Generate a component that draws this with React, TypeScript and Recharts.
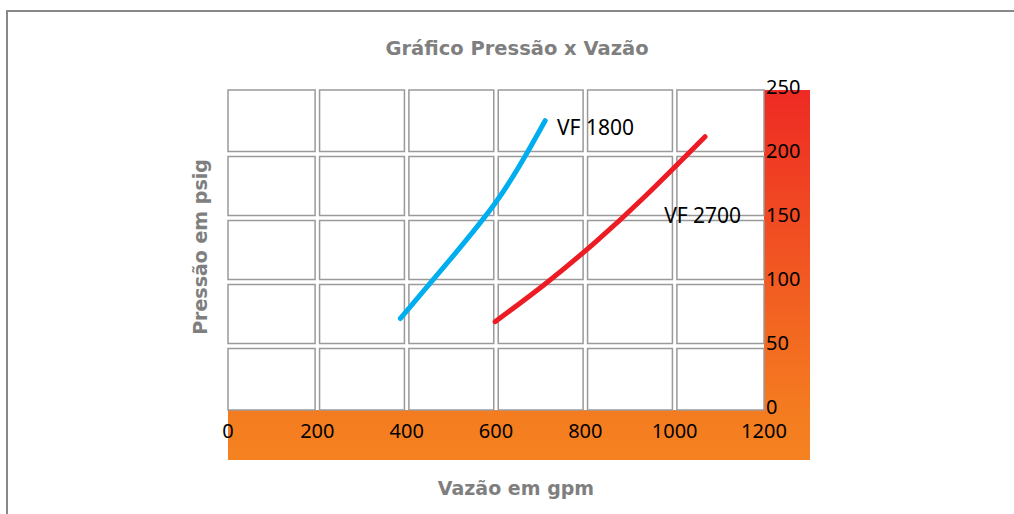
import React from 'react'
import {
  LineChart, Line, XAxis, YAxis, ReferenceArea, ReferenceDot,
} from 'recharts'

const X_TICKS = [0, 200, 400, 600, 800, 1000, 1200]
const Y_TICKS = [0, 50, 100, 150, 200, 250]

const VF1800 = [
  { x: 386, y: 71.5 },
  { x: 490, y: 114.5 },
  { x: 598, y: 161.5 },
  { x: 669, y: 200.5 },
  { x: 710, y: 226 },
]

const VF2700 = [
  { x: 598, y: 69 },
  { x: 710, y: 98.5 },
  { x: 822, y: 131 },
  { x: 934, y: 167 },
  { x: 1068, y: 213.5 },
]

const SERIES_LABELS = [
  { name: 'VF 1800', x: 723, y: 221 },
  { name: 'VF 2700', x: 963, y: 152 },
]

const GREY = '#7f7f7f'
const NUM_FONT = '"Noto Sans", sans-serif'
const TITLE_FONT = '"DejaVu Sans", sans-serif'

// white boxes between the grid lines, a small gap around each line
const cells: { x1: number; x2: number; y1: number; y2: number }[] = []
for (let i = 0; i < X_TICKS.length - 1; i++) {
  for (let j = 0; j < Y_TICKS.length - 1; j++) {
    cells.push({
      x1: i === 0 ? X_TICKS[i] : X_TICKS[i] + 5,
      x2: i === X_TICKS.length - 2 ? X_TICKS[i + 1] : X_TICKS[i + 1] - 5,
      y1: j === 0 ? Y_TICKS[j] : Y_TICKS[j] + 2,
      y2: j === Y_TICKS.length - 2 ? Y_TICKS[j + 1] : Y_TICKS[j + 1] - 2,
    })
  }
}

const titleStyle: React.CSSProperties = {
  fontFamily: TITLE_FONT, fontWeight: 'bold', color: GREY, whiteSpace: 'nowrap',
}

export default function App() {
  return (
    <div style={{ position: 'absolute', left: 0, top: 0, width: 1014, height: 514, background: '#fff', overflow: 'hidden' }}>
      {/* frame */}
      <div style={{ position: 'absolute', left: 6, top: 10, width: 1100, height: 600, borderTop: '2px solid #888', borderLeft: '2px solid #888' }} />

      <div style={{ ...titleStyle, position: 'absolute', left: 0, top: 37, width: 1034, textAlign: 'center', fontSize: 19.5 }}>
        Gráfico Pressão x Vazão
      </div>
      <div style={{ ...titleStyle, position: 'absolute', left: 0, top: 477, width: 1032, textAlign: 'center', fontSize: 19 }}>
        Vazão em gpm
      </div>
      <div style={{ position: 'absolute', left: 200, top: 248, width: 0, height: 0 }}>
        <div style={{ ...titleStyle, position: 'absolute', left: -150, top: -12, width: 300, textAlign: 'center', transform: 'rotate(-90deg)', fontSize: 19 }}>
          Pressão em psig
        </div>
      </div>

      <div style={{ position: 'absolute', left: 0, top: 0 }}>
        <LineChart width={1014} height={514} margin={{ top: 90, right: 204, left: 228, bottom: 54 }}>
          <defs>
            <linearGradient id="band" x1="0" y1="90" x2="0" y2="460" gradientUnits="userSpaceOnUse">
              <stop offset="0" stopColor="#EE2A24" />
              <stop offset="0.86" stopColor="#F47B20" />
              <stop offset="1" stopColor="#F58220" />
            </linearGradient>
          </defs>
          <XAxis
            type="number"
            dataKey="x"
            domain={[0, 1200]}
            ticks={X_TICKS}
            axisLine={false}
            tickLine={false}
            tickSize={0}
            tickMargin={14}
            height={50}
            tick={{ fill: '#000', fontSize: 20, fontFamily: NUM_FONT }}
          />
          <YAxis
            type="number"
            dataKey="y"
            orientation="right"
            domain={[0, 250]}
            ticks={Y_TICKS}
            axisLine={false}
            tickLine={false}
            tickSize={0}
            tickMargin={2}
            width={46}
            tick={{ fill: '#000', fontSize: 20, fontFamily: NUM_FONT, dy: -3 }}
          />
          {/* orange L-shaped band */}
          <ReferenceArea x1={0} x2={1303} y1={-39} y2={0} fill="url(#band)" fillOpacity={1} stroke="none" ifOverflow="visible" />
          <ReferenceArea x1={1200} x2={1303} y1={-39} y2={250} fill="url(#band)" fillOpacity={1} stroke="none" ifOverflow="visible" />
          {cells.map((c, k) => (
            <ReferenceArea
              key={k}
              x1={c.x1}
              x2={c.x2}
              y1={c.y1}
              y2={c.y2}
              fill="#fff"
              fillOpacity={1}
              stroke="#9a9a9a"
              strokeWidth={1.5}
              ifOverflow="visible"
            />
          ))}
          <Line data={VF1800} dataKey="y" type="natural" stroke="#00AEEF" strokeWidth={5} strokeLinecap="round" dot={false} isAnimationActive={false} />
          <Line data={VF2700} dataKey="y" type="natural" stroke="#ED1C24" strokeWidth={5} strokeLinecap="round" dot={false} isAnimationActive={false} />
          {SERIES_LABELS.map(l => (
            <ReferenceDot
              key={l.name}
              x={l.x}
              y={l.y}
              r={1}
              fill="none"
              stroke="none"
              label={{ value: l.name, position: 'right', fill: '#000', fontSize: 21, fontFamily: NUM_FONT }}
            />
          ))}
        </LineChart>
      </div>
    </div>
  )
}
